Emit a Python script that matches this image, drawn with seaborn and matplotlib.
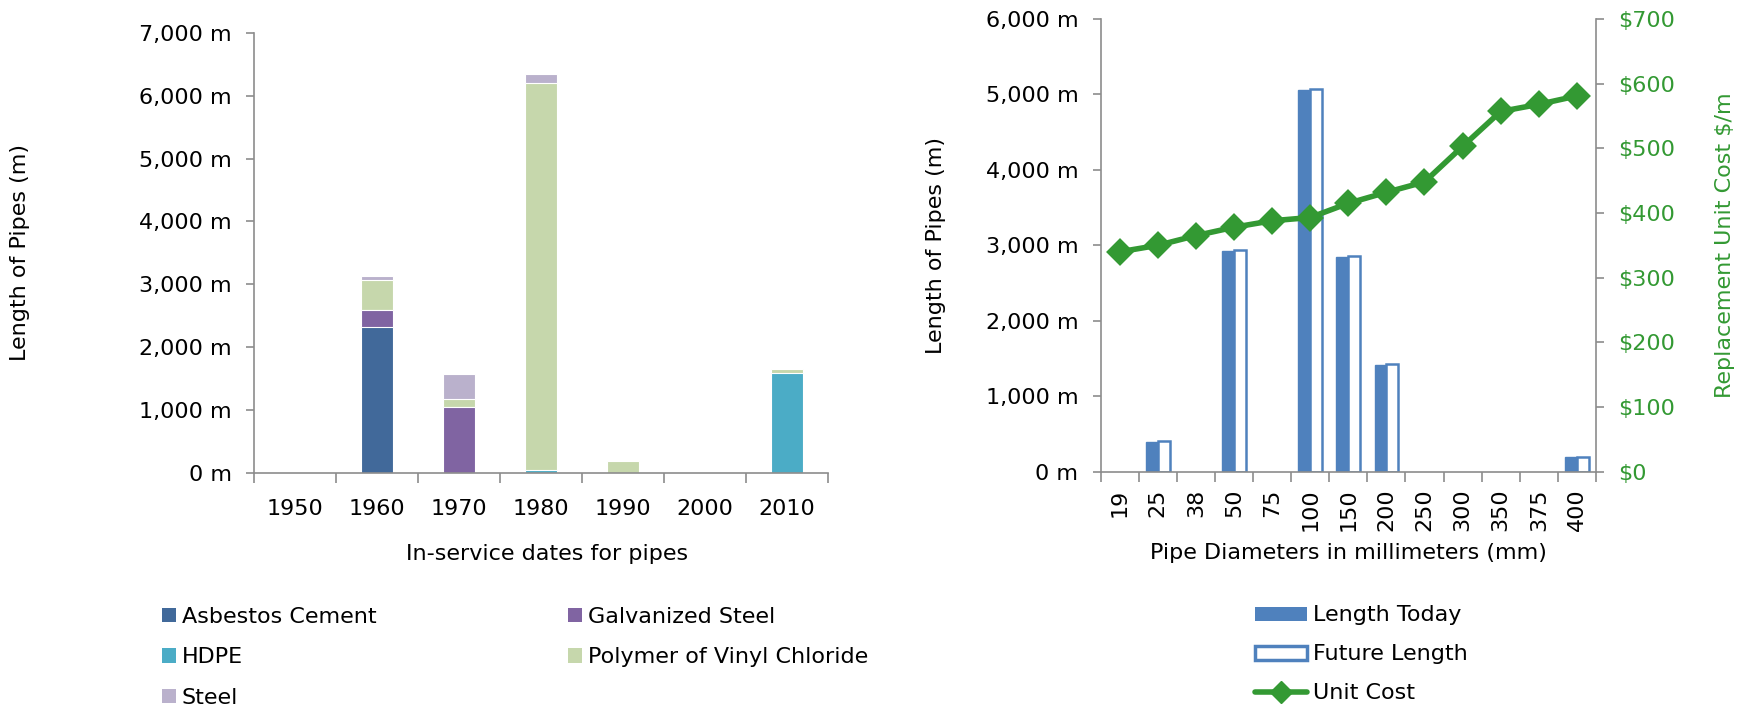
import numpy as np
import pandas as pd
import matplotlib
matplotlib.use("Agg")
import matplotlib.pyplot as plt
from matplotlib.ticker import FuncFormatter, FixedLocator
from matplotlib.patches import Patch
from matplotlib.lines import Line2D
import seaborn as sns

# ---------------- data ----------------
decades = ["1950", "1960", "1970", "1980", "1990", "2000", "2010"]
materials = ["Asbestos Cement", "Galvanized Steel", "HDPE",
             "Polymer of Vinyl Chloride", "Steel"]
asbestos_cement = [0, 2320, 0, 0, 0, 0, 0]
galvanized_steel = [0, 265, 1040, 0, 0, 0, 0]
hdpe = [0, 0, 0, 40, 0, 0, 1590]
pvc = [0, 490, 135, 6160, 185, 0, 65]
steel = [0, 50, 395, 145, 0, 0, 0]
material_colors = ["#41699A", "#8064A2", "#4BACC6", "#C6D7AC", "#BAB1CC"]

diameters = ["19", "25", "38", "50", "75", "100", "150", "200",
             "250", "300", "350", "375", "400"]
length_today = [0, 390, 0, 2930, 0, 5060, 2850, 1420, 0, 0, 0, 0, 190]
future_length = [0, 400, 0, 2940, 0, 5070, 2860, 1430, 0, 0, 0, 0, 200]
unit_cost = [340, 350, 365, 378, 388, 393, 415, 432, 448, 503, 557, 568, 581]

BLUE = "#4F81BD"
GREEN = "#339933"
GREY = "#8C8C8C"

# ---------------- style ----------------
sns.set_theme(style="ticks")
plt.rcParams["font.family"] = ["DejaVu Sans"]
plt.rcParams["text.color"] = "black"
plt.rcParams["axes.labelcolor"] = "black"
plt.rcParams["axes.edgecolor"] = GREY
plt.rcParams["axes.linewidth"] = 1.2
plt.rcParams["xtick.color"] = GREY
plt.rcParams["ytick.color"] = GREY
plt.rcParams["xtick.labelcolor"] = "black"
plt.rcParams["ytick.labelcolor"] = "black"
FS = 16
TFS = 16

fig = plt.figure(figsize=(17.58, 7.14), dpi=100)
ax1 = fig.add_axes([0.1445, 0.338, 0.3265, 0.6158])
ax2 = fig.add_axes([0.6261, 0.3394, 0.2817, 0.634])

# ---------------- left: stacked bars ----------------
layers = np.array([asbestos_cement, galvanized_steel, hdpe, pvc, steel], dtype=float)
cum = np.cumsum(layers, axis=0)
for i in reversed(range(len(materials))):
    sns.barplot(x=decades, y=cum[i], order=decades, color=material_colors[i],
                saturation=1, width=0.4, edgecolor="white", linewidth=0.8, ax=ax1)

ax1.set_ylim(0, 7000)
ax1.set_xlim(-0.5, len(decades) - 0.5)
ax1.yaxis.set_major_locator(FixedLocator(np.arange(0, 7001, 1000)))
ax1.yaxis.set_major_formatter(FuncFormatter(lambda v, p: f"{int(v):,} m"))
ax1.set_xticks(range(len(decades)))
ax1.set_xticklabels(decades)
ax1.xaxis.set_minor_locator(FixedLocator(np.arange(-0.5, len(decades), 1.0)))
ax1.tick_params(axis="x", which="major", length=0, pad=19, labelsize=TFS)
ax1.tick_params(axis="x", which="minor", length=7, width=1.2, direction="out")
ax1.tick_params(axis="y", which="major", length=6, width=1.2, pad=10, labelsize=TFS)
for s in ["top", "right"]:
    ax1.spines[s].set_visible(False)
ax1.set_xlabel("In-service dates for pipes", fontsize=FS)
ax1.set_ylabel("Length of Pipes (m)", fontsize=FS)
ax1.xaxis.set_label_coords(0.51, -0.185)
ax1.xaxis.label.set_va("center")
ax1.yaxis.set_label_coords(-0.408, 0.5)
ax1.yaxis.label.set_va("center")

# row-wise legend order (matplotlib fills columns first)
leg1_order = [0, 2, 4, 1, 3]
leg1_handles = [Patch(facecolor=material_colors[i], edgecolor="none") for i in leg1_order]
leg1_labels = [materials[i] for i in leg1_order]
fig.legend(leg1_handles, leg1_labels, loc="upper left",
           bbox_to_anchor=(162 / 1758, 0.150), ncol=2, frameon=False,
           fontsize=FS, handlelength=0.63, handleheight=0.63,
           handletextpad=0.27, columnspacing=8.6, labelspacing=0.92,
           borderpad=0, borderaxespad=0)

# ---------------- right: bars + line ----------------
df = pd.DataFrame({
    "Diameter": diameters * 2,
    "Length": length_today + future_length,
    "Series": ["Length Today"] * len(diameters) + ["Future Length"] * len(diameters),
})
sns.barplot(data=df, x="Diameter", y="Length", hue="Series", order=diameters,
             hue_order=["Length Today", "Future Length"],
             palette={"Length Today": BLUE, "Future Length": BLUE},
             saturation=1, width=0.62, gap=0, ax=ax2, legend=False)
for bar in ax2.containers[0]:
    bar.set_edgecolor(BLUE)
    bar.set_linewidth(1.0 if bar.get_height() > 0 else 0)
for bar in ax2.containers[1]:
    bar.set_facecolor("white")
    bar.set_edgecolor(BLUE)
    bar.set_linewidth(1.8 if bar.get_height() > 0 else 0)

ax3 = ax2.twinx()
sns.pointplot(x=diameters, y=unit_cost, order=diameters, color=GREEN,
              markers="D", markersize=11, linewidth=4, errorbar=None, ax=ax3)

ax2.set_xlim(-0.5, len(diameters) - 0.5)
ax2.set_ylim(0, 6000)
ax3.set_ylim(0, 700)
ax2.yaxis.set_major_locator(FixedLocator(np.arange(0, 6001, 1000)))
ax2.yaxis.set_major_formatter(FuncFormatter(lambda v, p: f"{int(v):,} m"))
ax3.yaxis.set_major_locator(FixedLocator(np.arange(0, 701, 100)))
ax3.yaxis.set_major_formatter(FuncFormatter(lambda v, p: f"${int(v)}"))
ax2.set_xticks(range(len(diameters)))
ax2.set_xticklabels(diameters, rotation=90)
ax2.xaxis.set_minor_locator(FixedLocator(np.arange(-0.5, len(diameters), 1.0)))
ax2.tick_params(axis="x", which="major", length=0, pad=12, labelsize=TFS)
ax2.tick_params(axis="x", which="minor", length=7, width=1.2, direction="out")
ax2.tick_params(axis="y", which="major", length=6, width=1.2, pad=10, labelsize=TFS)
ax3.tick_params(axis="y", which="major", length=6, width=1.2, pad=10,
                labelsize=TFS, labelcolor=GREEN)
ax2.spines["top"].set_visible(False)
ax2.spines["right"].set_visible(False)
ax3.spines["top"].set_visible(False)
ax3.spines["left"].set_visible(False)
ax3.spines["bottom"].set_visible(False)
ax3.set_xlabel("")
ax2.set_xlabel("Pipe Diameters in millimeters (mm)", fontsize=FS)
ax2.set_ylabel("Length of Pipes (m)", fontsize=FS)
ax3.set_ylabel("Replacement Unit Cost $/m", fontsize=FS, color=GREEN)
ax2.xaxis.set_label_coords(0.5, -0.18)
ax2.xaxis.label.set_va("center")
ax2.yaxis.set_label_coords(-0.3325, 0.5)
ax2.yaxis.label.set_va("center")
ax3.yaxis.set_label_coords(1.2605, 0.5)
ax3.yaxis.label.set_va("center")

leg2_handles = [
    Patch(facecolor=BLUE, edgecolor="none"),
    Patch(facecolor="white", edgecolor=BLUE, linewidth=2.5),
    Line2D([], [], color=GREEN, linewidth=4, marker="D", markersize=11),
]
fig.legend(leg2_handles, ["Length Today", "Future Length", "Unit Cost"],
           loc="upper left", bbox_to_anchor=(1255 / 1758, 0.152), frameon=False,
           fontsize=FS, handlelength=2.34, handleheight=0.59,
           handletextpad=0.25, labelspacing=0.85, borderpad=0, borderaxespad=0)

fig.savefig("out.png", dpi=100)
